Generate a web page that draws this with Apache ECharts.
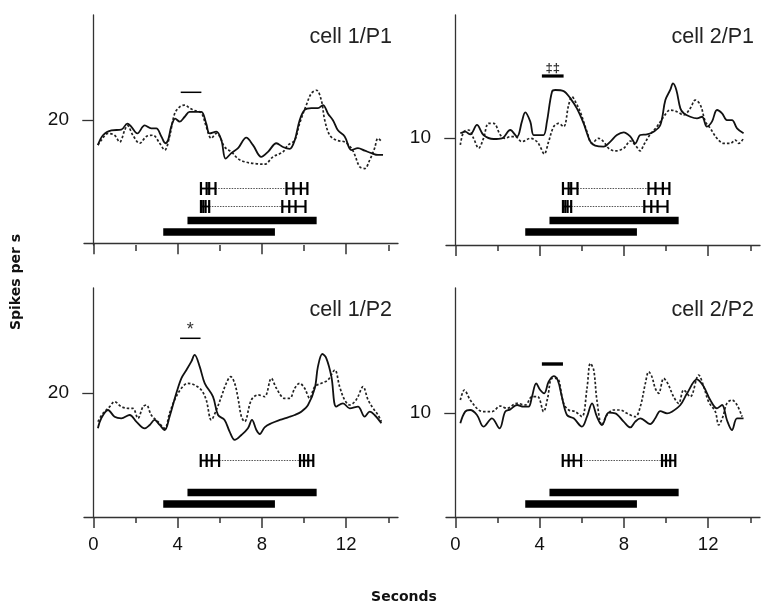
<!DOCTYPE html>
<html lang="en">
<head>
<meta charset="UTF-8">
<title>cell 1 / cell 2 firing rate</title>
<script src="https://cdn.jsdelivr.net/npm/echarts@6/dist/echarts.min.js"></script>
<style>
  html, body { margin: 0; padding: 0; background: #fff; }
  #main { width: 762px; height: 604px; }
</style>
</head>
<body>
<div id="main"></div>
<script>
// traces: [seconds, spikes per s]
var cell1P1Solid = [[0.22,15.9],[0.46,17.5],[0.86,18.3],[1.33,18.4],[1.62,19.4],[1.80,18.9],[2.09,17.8],[2.44,19.1],[2.75,18.6],[2.99,18.6],[3.23,17.3],[3.42,16.2],[3.55,16.7],[3.70,18.9],[3.89,20.2],[4.10,19.7],[4.34,20.5],[4.57,21.3],[4.81,21.3],[5.13,21.3],[5.36,19.4],[5.52,17.8],[5.84,18.1],[6.08,16.7],[6.28,13.7],[6.55,14.6],[6.87,15.4],[7.26,17.1],[7.58,15.9],[7.97,14.0],[8.29,14.8],[8.69,16.2],[9.00,15.6],[9.32,15.3],[9.56,16.7],[9.79,19.9],[10.03,21.6],[10.35,21.9],[10.66,21.9],[10.90,22.4],[11.14,21.0],[11.38,19.9],[11.61,18.3],[11.93,17.3],[12.25,15.1],[12.56,15.4],[12.88,15.0],[13.20,14.6],[13.51,14.3],[13.75,14.3]];
var cell1P1Dashed = [[0.22,15.9],[0.38,16.7],[0.70,17.8],[1.01,17.5],[1.25,16.4],[1.49,18.3],[1.62,19.1],[1.88,17.5],[2.20,16.2],[2.52,17.3],[2.83,17.5],[3.15,16.2],[3.39,15.1],[3.62,17.3],[3.86,21.0],[4.10,22.1],[4.34,22.4],[4.57,21.9],[4.81,21.5],[5.13,21.1],[5.36,18.9],[5.60,17.0],[5.84,17.8],[6.00,17.3],[6.23,15.6],[6.55,14.8],[6.87,13.7],[7.18,13.2],[7.66,12.9],[8.13,12.8],[8.53,14.0],[9.00,14.8],[9.24,15.9],[9.56,16.7],[9.79,19.4],[10.11,22.4],[10.35,24.3],[10.59,24.8],[10.82,23.2],[10.98,20.0],[11.22,17.5],[11.53,16.7],[11.93,16.4],[12.25,15.4],[12.41,14.3],[12.64,12.4],[12.88,12.1],[13.12,13.5],[13.35,15.4],[13.51,17.0],[13.70,16.4]];
var cell2P1Solid = [[0.24,10.44],[0.47,10.59],[0.71,10.34],[1.03,11.22],[1.34,10.28],[1.82,9.91],[2.21,9.97],[2.61,10.75],[2.93,10.13],[3.16,11.53],[3.32,12.40],[3.56,11.53],[3.72,10.28],[3.95,10.28],[4.19,10.28],[4.35,11.53],[4.59,14.33],[4.75,14.49],[5.14,14.39],[5.46,13.71],[5.77,12.77],[6.09,11.37],[6.41,9.66],[6.64,9.29],[7.04,9.19],[7.36,9.66],[7.67,10.28],[7.99,10.53],[8.31,10.13],[8.54,9.50],[8.78,10.28],[9.10,10.34],[9.41,10.59],[9.73,11.22],[9.97,13.55],[10.20,14.49],[10.33,15.11],[10.49,14.49],[10.68,12.77],[10.84,12.31],[11.15,11.99],[11.47,11.84],[11.71,11.99],[11.94,11.06],[12.18,11.53],[12.42,12.62],[12.66,12.31],[12.89,11.68],[13.13,11.68],[13.37,10.91],[13.68,10.44]];
var cell2P1Dashed = [[0.24,9.35],[0.40,10.59],[0.63,10.75],[0.87,9.97],[1.11,9.04],[1.34,9.97],[1.58,11.37],[1.82,11.37],[2.14,10.28],[2.37,9.97],[2.61,10.13],[2.85,10.13],[3.16,9.66],[3.56,9.97],[3.88,9.66],[4.03,9.19],[4.22,8.51],[4.43,9.66],[4.67,11.06],[4.90,11.37],[5.14,11.06],[5.38,13.09],[5.54,13.87],[5.70,13.40],[5.93,12.46],[6.25,10.59],[6.49,9.50],[6.80,9.97],[7.04,9.66],[7.28,9.04],[7.59,8.79],[7.99,9.04],[8.31,9.72],[8.54,9.35],[8.78,8.79],[8.94,9.35],[9.25,10.34],[9.57,11.06],[9.89,11.99],[10.20,12.62],[10.52,12.46],[10.84,12.15],[11.15,12.77],[11.39,13.55],[11.63,13.09],[11.87,11.53],[12.10,10.91],[12.42,9.97],[12.74,9.50],[13.05,9.50],[13.29,9.81],[13.45,9.50],[13.68,9.97]];
var cell1P2Solid = [[0.22,14.33],[0.38,15.95],[0.70,17.29],[1.01,16.21],[1.33,15.95],[1.73,16.48],[2.04,15.41],[2.44,14.33],[2.68,14.87],[2.91,15.68],[3.15,14.87],[3.39,14.06],[3.62,16.21],[3.94,19.98],[4.18,22.41],[4.42,23.75],[4.65,25.10],[4.81,26.18],[5.05,24.29],[5.29,21.60],[5.68,19.45],[5.92,16.48],[6.23,15.68],[6.47,13.79],[6.71,12.45],[7.03,13.25],[7.34,14.33],[7.53,15.68],[7.74,14.06],[7.90,13.41],[8.13,14.49],[8.45,15.14],[8.85,15.68],[9.24,16.11],[9.56,16.48],[9.87,17.02],[10.19,18.10],[10.51,20.79],[10.66,24.29],[10.87,26.34],[11.06,25.64],[11.30,22.68],[11.53,17.83],[11.85,18.37],[12.17,17.56],[12.56,17.83],[12.88,16.21],[13.12,17.02],[13.35,16.48],[13.67,15.14]];
var cell1P2Dashed = [[0.22,15.41],[0.46,16.75],[0.78,17.83],[1.01,18.64],[1.33,17.83],[1.65,17.56],[1.88,17.56],[2.12,15.95],[2.36,17.83],[2.52,18.10],[2.75,16.48],[3.07,15.41],[3.39,14.33],[3.62,16.75],[3.86,18.91],[4.18,20.79],[4.49,21.60],[4.81,21.33],[5.13,20.52],[5.36,18.91],[5.60,15.68],[5.84,17.29],[6.08,19.45],[6.31,21.60],[6.52,22.68],[6.71,21.60],[6.87,19.18],[7.03,16.21],[7.18,15.41],[7.50,18.91],[7.82,19.72],[8.13,19.45],[8.45,22.41],[8.69,20.79],[9.08,19.18],[9.32,19.18],[9.56,20.79],[9.79,21.60],[10.03,20.79],[10.27,19.18],[10.51,21.06],[10.82,21.60],[11.14,22.14],[11.46,23.75],[11.69,21.06],[11.93,18.91],[12.17,18.10],[12.41,18.64],[12.56,19.45],[12.80,21.06],[13.04,18.91],[13.28,17.56],[13.51,16.48],[13.67,15.41]];
var cell2P2Solid = [[0.24,9.00],[0.47,10.12],[0.71,10.28],[1.03,9.80],[1.34,8.68],[1.74,9.48],[2.10,8.52],[2.37,10.12],[2.61,10.34],[2.93,10.76],[3.24,10.60],[3.48,10.60],[3.64,11.56],[3.84,12.84],[4.03,12.20],[4.22,11.88],[4.43,13.00],[4.67,13.54],[4.86,13.16],[5.06,11.56],[5.30,9.80],[5.62,9.48],[6.01,8.68],[6.25,9.64],[6.49,10.92],[6.72,9.64],[6.96,8.84],[7.28,10.02],[7.59,9.96],[7.99,9.16],[8.31,8.61],[8.54,9.16],[8.78,9.48],[9.25,8.93],[9.49,9.48],[9.73,10.18],[10.05,9.96],[10.28,10.12],[10.68,10.76],[11.00,11.88],[11.47,13.22],[11.79,12.52],[12.10,11.24],[12.42,10.44],[12.66,10.76],[12.89,9.32],[13.13,8.36],[13.37,9.48],[13.68,9.48]];
var cell2P2Dashed = [[0.24,11.24],[0.43,12.20],[0.71,11.24],[1.11,10.28],[1.34,10.12],[1.74,10.12],[2.14,10.66],[2.45,10.44],[2.93,10.92],[3.32,10.76],[3.64,11.56],[3.91,11.56],[4.19,10.12],[4.38,11.40],[4.59,13.32],[4.83,13.32],[5.14,10.92],[5.38,10.28],[5.70,10.12],[6.01,9.64],[6.25,12.36],[6.41,14.76],[6.57,14.12],[6.72,11.24],[6.96,8.84],[7.20,9.80],[7.51,10.28],[7.83,10.28],[8.15,9.96],[8.54,9.64],[8.78,10.60],[9.02,12.84],[9.18,13.96],[9.33,13.48],[9.49,12.36],[9.65,11.88],[9.89,13.32],[10.08,12.84],[10.36,11.56],[10.60,10.92],[10.84,12.20],[11.15,11.56],[11.55,13.64],[11.79,12.52],[12.02,11.08],[12.34,10.12],[12.50,8.84],[12.70,9.64],[12.89,10.92],[13.13,11.24],[13.37,10.76],[13.61,9.64]];

// task epochs (s) and behavioural event times (s)
var taskEpochs = [[4.47, 10.6], [3.32, 8.62]];
var p1RowAOn = [5.11, 5.38, 5.5, 5.8];
var p1RowAOff = [9.17, 9.5, 9.85, 10.16];
var p1RowBOn = [5.11, 5.22, 5.33, 5.5];
var p1RowBOff = [8.97, 9.3, 9.6, 10.07];
var p2RowOn = [5.1, 5.38, 5.62, 5.97];
var p2RowOff = [9.81, 10.0, 10.2, 10.44];

// significant windows and marks
var sigWindows = [[4.15, 5.13], [4.11, 5.14], [4.12, 5.09], [4.11, 5.11]];
var sigMarks = ['', '‡‡', '*', ''];
var panelTitles = ['cell 1/P1', 'cell 2/P1', 'cell 1/P2', 'cell 2/P2'];
var yTickValues = [20, 10, 20, 10];
var xMajorTicks = [0, 4, 8, 12];
var xMinorTicks = [2, 6, 10, 14];

// layout
var rowLanes = [56.5, 38.5];
var epochLanes = [24.5, 13];
var panels = [
    {left: 84, top: 15, height: 230, yMin: -0.3, yMax: 37, solid: cell1P1Solid, dashed: cell1P1Dashed,
     rows: [[p1RowAOn, p1RowAOff], [p1RowBOn, p1RowBOff]], sigLane: 152.7, sigWidth: 1.5, markLane: 0, labels: false, titleY: 37},
    {left: 446, top: 15, height: 230, yMin: 0, yMax: 21.5, solid: cell2P1Solid, dashed: cell2P1Dashed,
     rows: [[p1RowAOn, p1RowAOff], [p1RowBOn, p1RowBOff]], sigLane: 169, sigWidth: 3.2, markLane: 177, labels: false, titleY: 37},
    {left: 84, top: 288, height: 229, yMin: 0, yMax: 37, solid: cell1P2Solid, dashed: cell1P2Dashed,
     rows: [[p2RowOn, p2RowOff]], sigLane: 178.7, sigWidth: 1.5, markLane: 187, labels: true, titleY: 310},
    {left: 446, top: 288, height: 229, yMin: 0, yMax: 22, solid: cell2P2Solid, dashed: cell2P2Dashed,
     rows: [[p2RowOn, p2RowOff]], sigLane: 153, sigWidth: 3.4, markLane: 0, labels: true, titleY: 310}
];

var axisColor = '#333';
var myChart = echarts.init(document.getElementById('main'));

function rasterItems(rows) {
    var items = [];
    rows.forEach(function (row, k) {
        var lane = rowLanes[k];
        var on = row[0], off = row[1];
        items.push([1, on[0], on[on.length - 1], lane]);
        items.push([2, on[on.length - 1], off[0], lane]);
        items.push([1, off[0], off[off.length - 1], lane]);
        on.concat(off).forEach(function (t) { items.push([0, t, t, lane]); });
    });
    return items;
}

function renderRaster(params, api) {
    var kind = api.value(0);
    var a = api.coord([api.value(1), api.value(3)]);
    var b = api.coord([api.value(2), api.value(3)]);
    if (kind === 0) {
        return {type: 'line', shape: {x1: a[0], y1: a[1] - 6.5, x2: a[0], y2: a[1] + 6.5},
                style: {stroke: '#000', lineWidth: 2.2}};
    }
    if (kind === 1) {
        return {type: 'line', shape: {x1: a[0], y1: a[1], x2: b[0], y2: b[1]},
                style: {stroke: '#000', lineWidth: 1.8}};
    }
    return {type: 'line', shape: {x1: a[0], y1: a[1], x2: b[0], y2: b[1]},
            style: {stroke: '#555', lineWidth: 1.2, lineDash: [1.5, 1.2]}};
}

function renderEpoch(params, api) {
    var a = api.coord([api.value(0), api.value(2)]);
    var b = api.coord([api.value(1), api.value(2)]);
    return {type: 'rect', shape: {x: a[0], y: a[1] - 3.8, width: b[0] - a[0], height: 7.6},
            style: {fill: '#000'}};
}

var option = {animation: false, grid: [], xAxis: [], yAxis: [], series: [], graphic: []};

panels.forEach(function (p, i) {
    option.grid.push({left: p.left, top: p.top, width: 314, height: p.height});
    option.xAxis.push({
        type: 'value', gridIndex: i, position: 'bottom', min: -0.44, max: 14.46,
        axisLine: {show: true, lineStyle: {color: axisColor, width: 1.3}},
        axisTick: {show: true, customValues: xMajorTicks, length: 11, lineStyle: {color: axisColor, width: 1.5}},
        axisLabel: {show: p.labels, customValues: xMajorTicks, margin: 18, fontSize: 18.5,
                    fontFamily: 'Liberation Sans', color: '#111'},
        splitLine: {show: false}
    });
    option.xAxis.push({
        type: 'value', gridIndex: i, position: 'bottom', min: -0.44, max: 14.46,
        axisLine: {show: false},
        axisTick: {show: true, customValues: xMinorTicks, length: 6, lineStyle: {color: axisColor, width: 1.5}},
        axisLabel: {show: false}, splitLine: {show: false}
    });
    option.yAxis.push({
        type: 'value', gridIndex: i, position: 'left', min: p.yMin, max: p.yMax,
        axisLine: {show: true, lineStyle: {color: axisColor, width: 1.3}},
        axisTick: {show: true, customValues: [yTickValues[i]], length: 11, lineStyle: {color: axisColor, width: 1.3}},
        axisLabel: {customValues: [yTickValues[i]], margin: 15, fontSize: 19,
                    fontFamily: 'Liberation Sans', color: '#111'},
        splitLine: {show: false}
    });
    option.yAxis.push({type: 'value', gridIndex: i, position: 'left', min: 0, max: p.height, show: false});

    option.series.push({
        name: 'dashed', type: 'line', xAxisIndex: 2 * i, yAxisIndex: 2 * i, data: p.dashed,
        showSymbol: false, smooth: 0.35, z: 2,
        lineStyle: {color: '#222', width: 1.7, type: [2.5, 2]}
    });
    option.series.push({
        name: 'solid', type: 'line', xAxisIndex: 2 * i, yAxisIndex: 2 * i, data: p.solid,
        showSymbol: false, smooth: 0.35, z: 3,
        lineStyle: {color: '#111', width: 1.8}
    });
    option.series.push({
        type: 'custom', xAxisIndex: 2 * i, yAxisIndex: 2 * i + 1,
        data: taskEpochs.map(function (e, k) { return [e[0], e[1], epochLanes[k]]; }),
        encode: {x: [0, 1], y: 2}, renderItem: renderEpoch
    });
    option.series.push({
        type: 'custom', xAxisIndex: 2 * i, yAxisIndex: 2 * i + 1,
        data: rasterItems(p.rows), encode: {x: [1, 2], y: 3}, renderItem: renderRaster
    });
    option.series.push({
        type: 'custom', xAxisIndex: 2 * i, yAxisIndex: 2 * i + 1,
        data: [[sigWindows[i][0], sigWindows[i][1], p.sigLane]], encode: {x: [0, 1], y: 2},
        renderItem: function (params, api) {
            var a = api.coord([api.value(0), api.value(2)]);
            var b = api.coord([api.value(1), api.value(2)]);
            var children = [{type: 'line', shape: {x1: a[0], y1: a[1], x2: b[0], y2: b[1]},
                             style: {stroke: '#000', lineWidth: p.sigWidth}}];
            if (sigMarks[i]) {
                children.push({type: 'text', x: (a[0] + b[0]) / 2, y: api.coord([0, p.markLane])[1],
                    style: {text: sigMarks[i], fill: '#333', align: 'center', verticalAlign: 'middle',
                            textAlign: 'center', textVerticalAlign: 'middle',
                            font: (i === 2 ? '18px' : 'bold 13px') + ' "Liberation Sans"'}});
            }
            return {type: 'group', children: children};
        }
    });

    option.graphic.push({
        type: 'text', left: null, x: p.left + 308, y: p.titleY,
        style: {text: panelTitles[i], fill: '#222', font: '21.5px "Liberation Sans"',
                align: 'right', verticalAlign: 'middle', textAlign: 'right', textVerticalAlign: 'middle'}
    });
});

option.graphic.push({
    type: 'text', x: 16, y: 282, rotation: Math.PI / 2,
    style: {text: 'Spikes per s', fill: '#111', font: 'bold 14px "DejaVu Sans"',
            align: 'center', verticalAlign: 'middle', textAlign: 'center', textVerticalAlign: 'middle'}
});
option.graphic.push({
    type: 'text', x: 404, y: 597,
    style: {text: 'Seconds', fill: '#111', font: 'bold 14px "DejaVu Sans"',
            align: 'center', verticalAlign: 'middle', textAlign: 'center', textVerticalAlign: 'middle'}
});

myChart.setOption(option);
</script>
</body>
</html>
